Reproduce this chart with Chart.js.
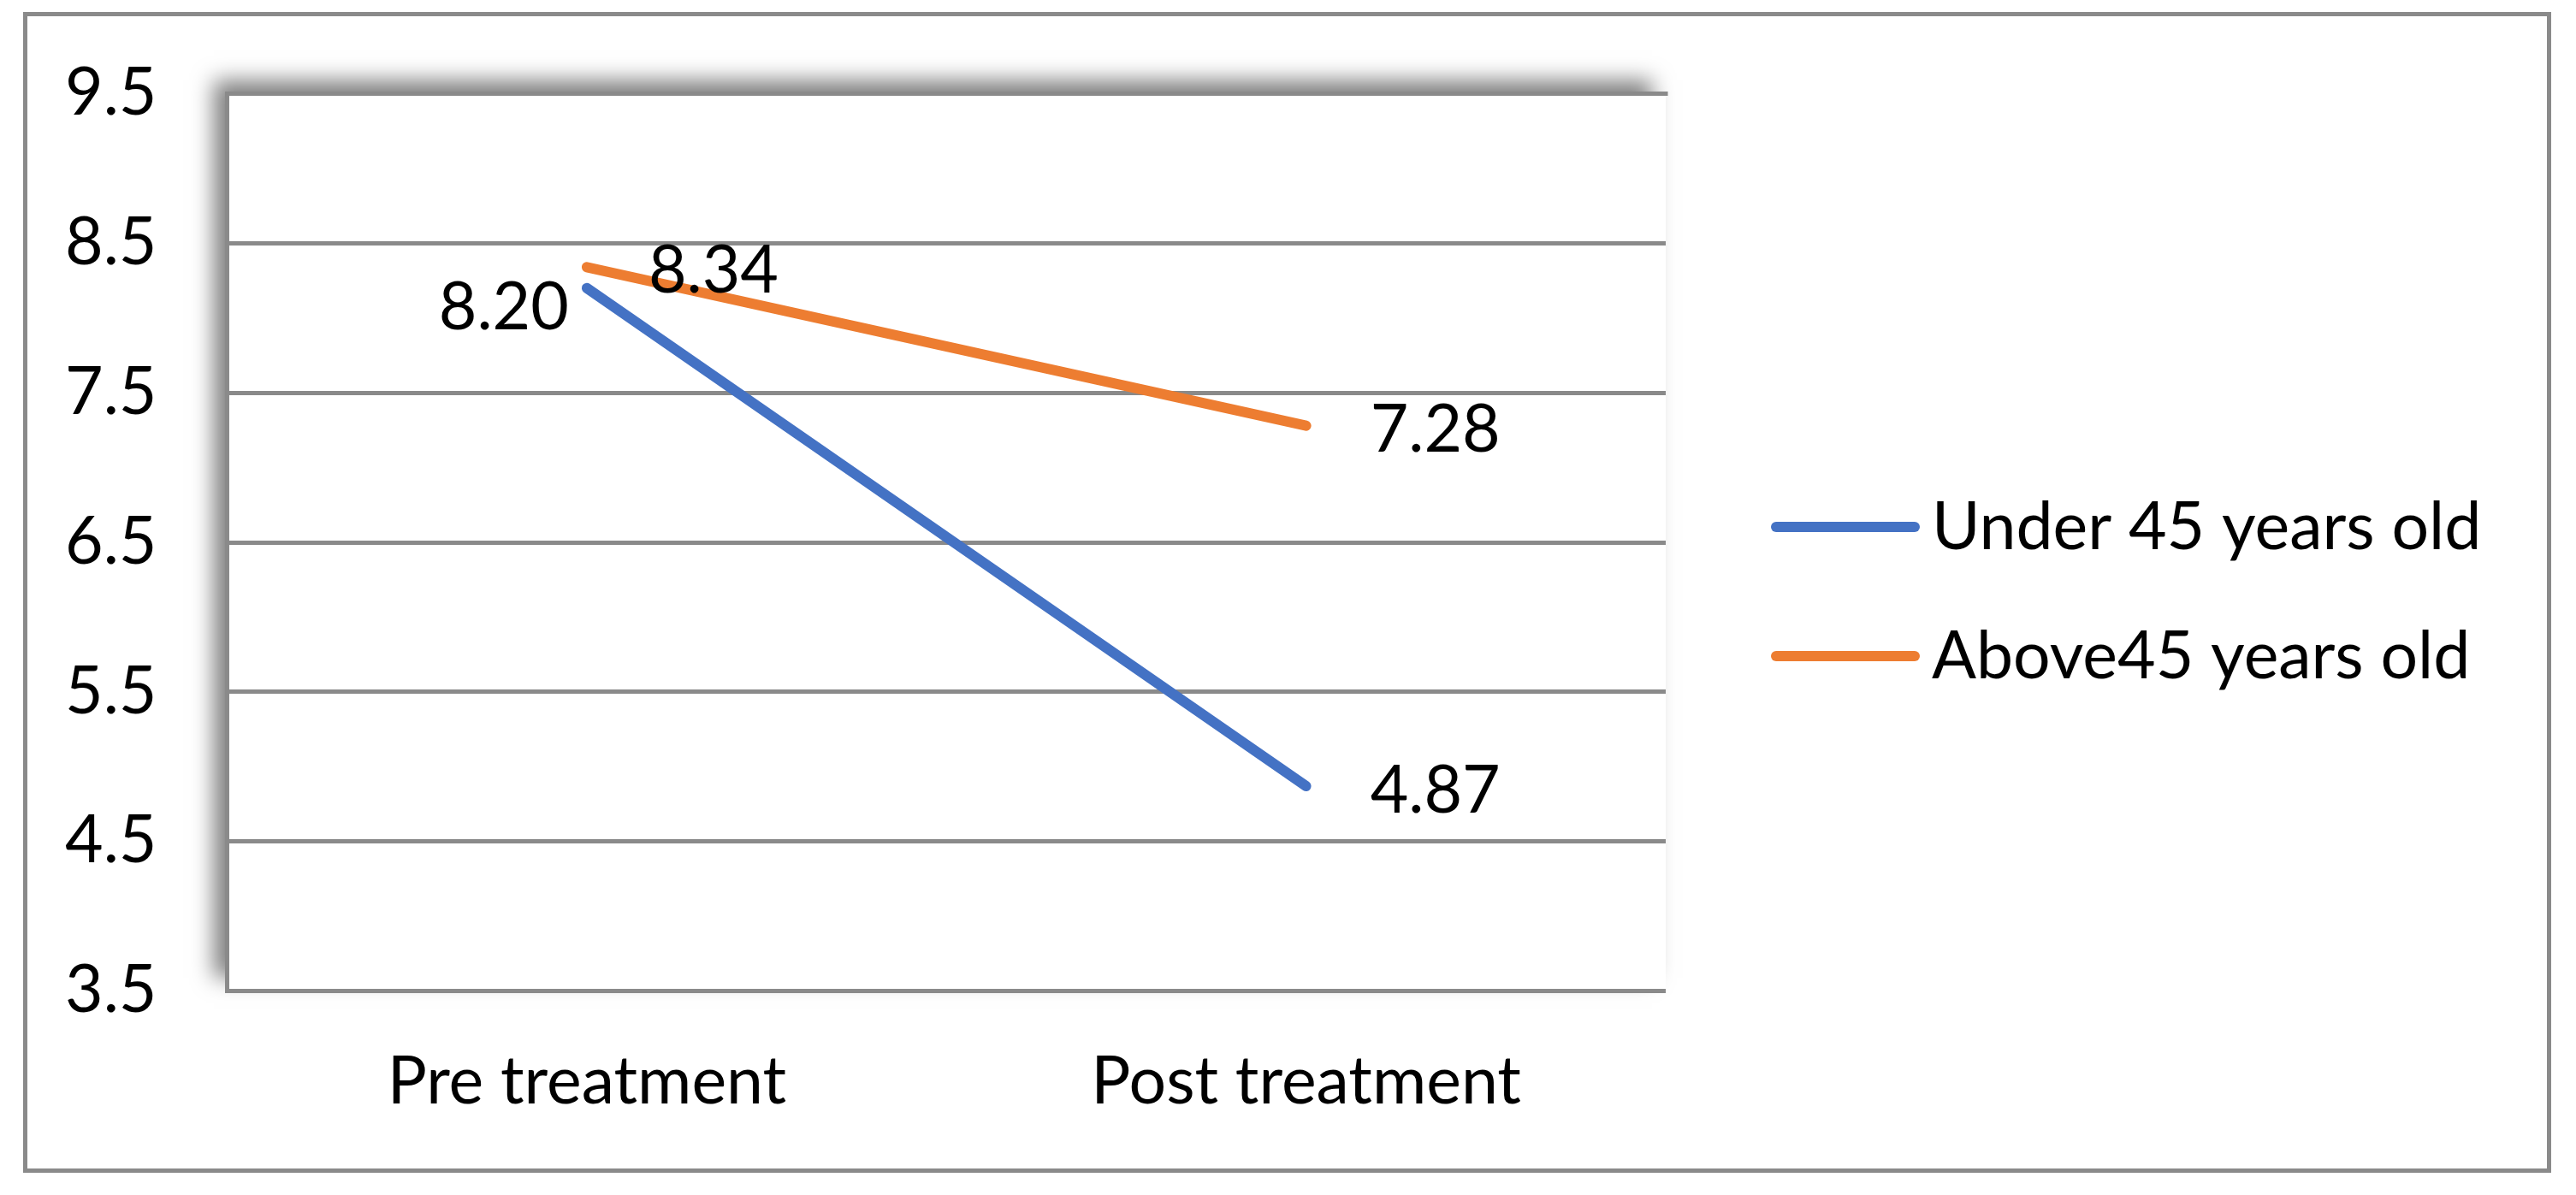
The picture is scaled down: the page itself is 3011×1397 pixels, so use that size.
<!DOCTYPE html>
<html><head><meta charset="utf-8">
<script src="https://cdn.jsdelivr.net/npm/chart.js@4.4.1/dist/chart.umd.min.js"></script>
<style>html,body{margin:0;padding:0;background:#fff;overflow:hidden}#wrap{width:3011px;height:1397px;position:relative}</style>
</head><body><div id="wrap"><canvas id="c" width="3011" height="1397"></canvas></div>
<script>
// ---- data ----
const categories = ['Pre treatment', 'Post treatment'];
const seriesNames = ['Under 45 years old', 'Above45 years old'];
const under45 = [8.20, 4.87];
const above45 = [8.34, 7.28];
const yTicks = [3.5, 4.5, 5.5, 6.5, 7.5, 8.5, 9.5];

// ---- style ----
const FONT = 'Lato';
const FSIZE = 77;
const GRID = '#8a8a8a';
const colors = ['#4472C4', '#ED7D31'];
// label placement per dataset per point
const labelPlace = [
  [{side: 'left', dx: -21, dy: 21}, {side: 'right', dx: 75, dy: 3}],
  [{side: 'right', dx: 72, dy: 2}, {side: 'right', dx: 75, dy: 3}]
];

const framePlugin = {
  id: 'frame',
  beforeDraw(chart) {
    const ctx = chart.ctx, a = chart.chartArea;
    ctx.save();
    ctx.fillStyle = '#fff';
    ctx.fillRect(0, 0, chart.width, chart.height);
    ctx.strokeStyle = GRID; ctx.lineWidth = 5;
    ctx.strokeRect(29.5, 16.5, 2950, 1352);
    ctx.save();
    ctx.shadowColor = 'rgba(0,0,0,0.5)';
    ctx.shadowBlur = 24;
    ctx.shadowOffsetX = -16;
    ctx.shadowOffsetY = -16;
    ctx.fillStyle = '#fff';
    ctx.fillRect(a.left, a.top, a.right - a.left, a.bottom - a.top);
    ctx.restore();
    ctx.fillStyle = '#fff';
    ctx.fillRect(a.left, a.top, a.right - a.left, a.bottom - a.top);
    ctx.restore();
  },
  afterDraw(chart) {
    const ctx = chart.ctx, a = chart.chartArea;
    ctx.save();
    ctx.strokeStyle = GRID; ctx.lineWidth = 5; ctx.lineCap = 'square';
    ctx.beginPath();
    ctx.moveTo(a.left, a.bottom);
    ctx.lineTo(a.left, a.top);
    ctx.lineTo(a.right, a.top);
    ctx.stroke();
    ctx.restore();
  }
};

const labelPlugin = {
  id: 'vlabels',
  afterDatasetsDraw(chart) {
    const ctx = chart.ctx;
    ctx.save();
    ctx.font = FSIZE + 'px ' + FONT;
    ctx.fillStyle = '#000';
    ctx.textBaseline = 'alphabetic';
    chart.data.datasets.forEach((ds, di) => {
      chart.getDatasetMeta(di).data.forEach((pt, i) => {
        const p = labelPlace[di][i];
        const txt = ds.data[i].toFixed(2);
        ctx.textAlign = p.side === 'left' ? 'right' : 'left';
        ctx.fillText(txt, pt.x + p.dx, pt.y + p.dy + FSIZE * 0.358);
      });
    });
    ctx.restore();
  }
};

const legendPlugin = {
  id: 'customLegend',
  afterDraw(chart) {
    const ctx = chart.ctx;
    const rows = [616, 767];
    ctx.save();
    ctx.font = FSIZE + 'px ' + FONT;
    ctx.textBaseline = 'alphabetic';
    ctx.textAlign = 'left';
    chart.data.datasets.forEach((ds, di) => {
      const y = rows[di];
      ctx.strokeStyle = ds.borderColor;
      ctx.lineWidth = 12; ctx.lineCap = 'round';
      ctx.beginPath(); ctx.moveTo(2076, y); ctx.lineTo(2238, y); ctx.stroke();
      ctx.fillStyle = '#000';
      ctx.fillText(ds.label, 2258, y - 2 + FSIZE * 0.358);
    });
    ctx.restore();
  }
};

new Chart(document.getElementById('c'), {
  type: 'line',
  data: {
    labels: categories,
    datasets: [
      {label: seriesNames[0], data: under45, borderColor: colors[0], backgroundColor: colors[0]},
      {label: seriesNames[1], data: above45, borderColor: colors[1], backgroundColor: colors[1]}
    ].map(d => Object.assign(d, {borderWidth: 12, borderCapStyle: 'round', borderJoinStyle: 'round', pointRadius: 0, pointHoverRadius: 0, tension: 0, fill: false}))
  },
  options: {
    responsive: false,
    devicePixelRatio: 1,
    animation: false,
    events: [],
    layout: {padding: {left: 0, top: 109.5, right: 1064, bottom: 0}},
    plugins: {legend: {display: false}, tooltip: {enabled: false}},
    scales: {
      x: {
        type: 'category', offset: true,
        grid: {display: false, drawTicks: false},
        border: {display: false},
        ticks: {color: '#000', font: {family: FONT, size: FSIZE}, padding: 60, maxRotation: 0, autoSkip: false},
        afterFit: s => { s.height = 238.5; s.paddingLeft = 0; s.paddingRight = 0; }
      },
      y: {
        min: 3.5, max: 9.5,
        afterBuildTicks: s => { s.ticks = yTicks.map(v => ({value: v})); },
        grid: {color: GRID, lineWidth: 5, drawTicks: false},
        border: {display: false},
        ticks: {color: '#000', font: {family: FONT, size: FSIZE}, padding: 82, callback: v => Number(v).toFixed(1)},
        afterFit: s => { s.width = 265.5; s.paddingTop = 0; s.paddingBottom = 0; }
      }
    }
  },
  plugins: [framePlugin, labelPlugin, legendPlugin]
});
</script></body></html>
